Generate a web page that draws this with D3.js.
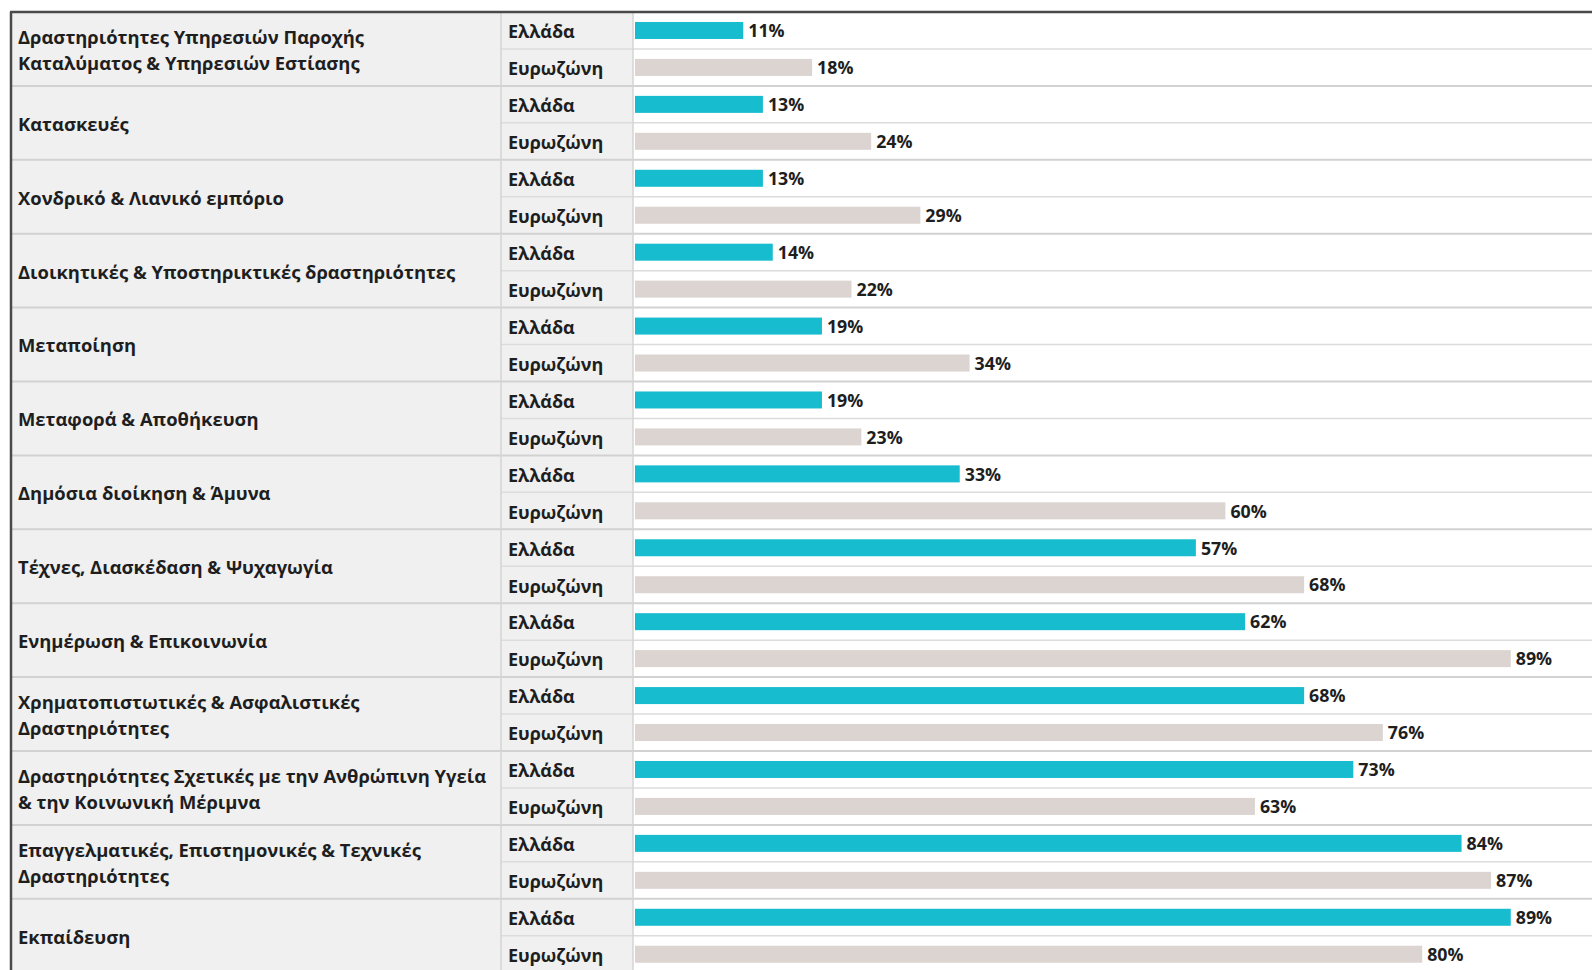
<!DOCTYPE html>
<html>
<head>
<meta charset="utf-8">
<script src="https://cdn.jsdelivr.net/npm/d3@7"></script>
<style>
html,body{margin:0;padding:0;background:#fff;}
svg{display:block;}
text{font-family:"Open Sans","Noto Sans",sans-serif;font-weight:700;fill:#1e1e1e;}
</style>
</head>
<body>
<svg id="chart" width="1592" height="970"></svg>
<script>
const categories = [
  ["Δραστηριότητες Υπηρεσιών Παροχής", "Καταλύματος & Υπηρεσιών Εστίασης"],
  ["Κατασκευές"],
  ["Χονδρικό & Λιανικό εμπόριο"],
  ["Διοικητικές & Υποστηρικτικές δραστηριότητες"],
  ["Μεταποίηση"],
  ["Μεταφορά & Αποθήκευση"],
  ["Δημόσια διοίκηση & Άμυνα"],
  ["Τέχνες, Διασκέδαση & Ψυχαγωγία"],
  ["Ενημέρωση & Επικοινωνία"],
  ["Χρηματοπιστωτικές & Ασφαλιστικές", "Δραστηριότητες"],
  ["Δραστηριότητες Σχετικές με την Ανθρώπινη Υγεία", "& την Κοινωνική Μέριμνα"],
  ["Επαγγελματικές, Επιστημονικές & Τεχνικές", "Δραστηριότητες"],
  ["Εκπαίδευση"]
];
const seriesNames = ["Ελλάδα", "Ευρωζώνη"];
const greece   = [11, 13, 13, 14, 19, 19, 33, 57, 62, 68, 73, 84, 89];
const eurozone = [18, 24, 29, 22, 34, 23, 60, 68, 89, 76, 63, 87, 80];
const seriesColors = ["#17bccf", "#dbd4d1"];

const rows = [];
categories.forEach((c, i) => {
  rows.push({g: i, s: 0, v: greece[i]});
  rows.push({g: i, s: 1, v: eurozone[i]});
});

const svg = d3.select("#chart");
const W = 1592;
const topY = 12, leftX = 11;
const catRight = 501, serRight = 633;
const groupH = 73.9;

const y = d3.scaleBand().domain(d3.range(categories.length)).range([topY, topY + groupH * categories.length]).padding(0);
const ys = d3.scaleBand().domain([0, 1]).range([0, y.bandwidth()]).padding(0);
const x = d3.scaleLinear().domain([0, 100]).range([635, 635 + 984]);

// column backgrounds
svg.append("rect").attr("x", leftX).attr("y", topY).attr("width", serRight - leftX).attr("height", 970 - topY).attr("fill", "#f0f0f0");

// row separators (within groups)
svg.selectAll("line.row").data(categories.map((c, i) => i)).enter().append("line")
  .attr("x1", catRight).attr("x2", W)
  .attr("y1", d => y(d) + ys(1)).attr("y2", d => y(d) + ys(1))
  .attr("stroke", "#dcdcdc").attr("stroke-width", 1.5);

// group separators
svg.selectAll("line.grp").data(categories.map((c, i) => i).slice(1)).enter().append("line")
  .attr("x1", leftX).attr("x2", W)
  .attr("y1", d => y(d)).attr("y2", d => y(d))
  .attr("stroke", "#d2d2d2").attr("stroke-width", 2);

// vertical dividers
[catRight, serRight].forEach(vx => {
  svg.append("line").attr("x1", vx).attr("x2", vx).attr("y1", topY).attr("y2", 970)
    .attr("stroke", "#d4d4d4").attr("stroke-width", 1.5);
});

// frame
svg.append("line").attr("x1", leftX - 1).attr("x2", W).attr("y1", topY).attr("y2", topY).attr("stroke", "#4a4a4a").attr("stroke-width", 2.5);
svg.append("line").attr("x1", leftX).attr("x2", leftX).attr("y1", topY).attr("y2", 970).attr("stroke", "#4a4a4a").attr("stroke-width", 2.5);

// category labels
const cat = svg.selectAll("text.cat").data(categories).enter().append("text")
  .attr("class", "cat")
  .attr("x", 18)
  .attr("font-size", 18.4);
cat.each(function(lines, i) {
  const cy = y(i) + y.bandwidth() / 2 + 1.5;
  const lh = 26;
  const start = cy - (lines.length - 1) * lh / 2;
  d3.select(this).selectAll("tspan").data(lines).enter().append("tspan")
    .attr("x", 18).attr("y", (d, k) => start + k * lh).attr("dy", "0.35em").text(d => d);
});

// series labels
svg.selectAll("text.ser").data(rows).enter().append("text")
  .attr("x", 508)
  .attr("y", d => y(d.g) + ys(d.s) + ys.bandwidth() / 2 + 1.5)
  .attr("dy", "0.35em")
  .attr("font-size", 18)
  .text(d => seriesNames[d.s]);

// bars
const barH = 17;
svg.selectAll("rect.bar").data(rows).enter().append("rect")
  .attr("x", x(0))
  .attr("y", d => y(d.g) + ys(d.s) + ys.bandwidth() / 2 - barH / 2)
  .attr("width", d => x(d.v) - x(0))
  .attr("height", barH)
  .attr("fill", d => seriesColors[d.s]);

// value labels
svg.selectAll("text.val").data(rows).enter().append("text")
  .attr("x", d => x(d.v) + 5)
  .attr("y", d => y(d.g) + ys(d.s) + ys.bandwidth() / 2 + 0.5)
  .attr("dy", "0.35em")
  .attr("font-size", 17.8)
  .text(d => d.v + "%");
</script>
</body>
</html>
